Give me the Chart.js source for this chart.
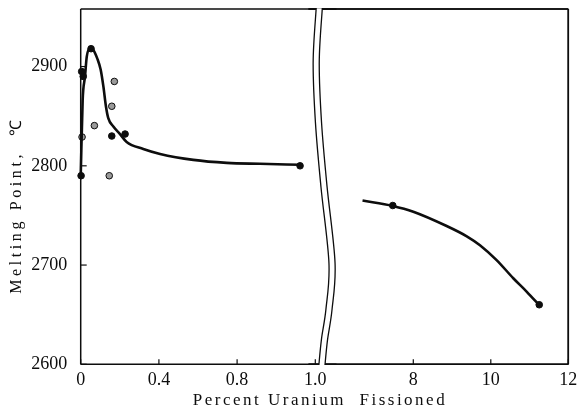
<!DOCTYPE html>
<html>
<head>
<meta charset="utf-8">
<script src="https://cdn.jsdelivr.net/npm/chart.js@4.4.0/dist/chart.umd.min.js"></script>
<style>
  html, body { margin: 0; padding: 0; background: #fff; }
  #wrap { position: relative; width: 577px; height: 413px; overflow: hidden; }
  #wrap canvas { position: absolute; top: 0; }
  #low { left: 0; }
  #high { left: 290px; }
</style>
</head>
<body>
<div id="wrap">
  <canvas id="low" width="577" height="413"></canvas>
  <canvas id="high" width="300" height="413"></canvas>
</div>
<script>
// low burn-up panel (percent fissioned)
const lowCurveX = [0, 0.010, 0.022, 0.031, 0.048, 0.064, 0.085, 0.102, 0.116, 0.129, 0.141, 0.167, 0.201, 0.235, 0.320, 0.406, 0.576, 0.747, 0.917, 1.122];
const lowCurveY = [2789, 2866, 2890, 2910, 2918.5, 2917, 2908, 2897, 2880, 2860, 2848, 2839.5, 2832, 2824, 2817, 2812, 2806, 2803, 2802, 2801];
const lowSolidX = [0.053, 0.005, 0.013, 0.159, 0.227, 0.002, 1.122];
const lowSolidY = [2918, 2895, 2890, 2830, 2832, 2790, 2800];
const lowRingX = [0.172, 0.159, 0.070, 0.007, 0.146];
const lowRingY = [2885, 2860, 2840.5, 2829, 2790];

// high burn-up panel
const highCurveX = [6.69, 7.47, 8.0, 8.86, 9.38, 9.72, 10.15, 10.58, 10.93, 11.25];
const highCurveY = [2765, 2759.6, 2753.8, 2739.4, 2729, 2720, 2705, 2686.7, 2673, 2659.5];
const highSolidX = [7.47, 11.25];
const highSolidY = [2760, 2660];

const lowTicks = [0, 0.4, 0.8, 1.2];
const lowTickLabels = ['0', '0.4', '0.8', '1.0'];
const highTicks = [8, 10, 12];
const yTicks = [2600, 2700, 2800, 2900];

const xTitle = 'Percent Uranium  Fissioned';
const yTitle = 'Melting Point,  \u2103';

const ink = '#0d0d0d';
const serif = "'Liberation Serif', 'Times New Roman', serif";
const highLeft = 290; // left offset of the high panel canvas

function pairs(xs, ys) {
  return xs.map((x, i) => ({ x: x, y: ys[i] }));
}

function curve(xs, ys) {
  return {
    data: pairs(xs, ys), showLine: true, pointRadius: 0,
    borderColor: ink, borderWidth: 2.6, cubicInterpolationMode: 'monotone', clip: false
  };
}

function dots(xs, ys, fill) {
  return {
    data: pairs(xs, ys), showLine: false, pointRadius: 3.3, pointHoverRadius: 3.3,
    pointBackgroundColor: fill, pointBorderColor: ink, pointBorderWidth: 1, clip: false
  };
}

function yScale(show) {
  const s = {
    display: show, min: 2600, max: 2958,
    grid: { display: false }, border: { display: false },
    afterBuildTicks: (sc) => { sc.ticks = yTicks.map(v => ({ value: v })); },
    ticks: { color: ink, font: { family: serif, size: 18 }, padding: 5.5, callback: (v) => String(v) }
  };
  if (show) {
    s.afterFit = (sc) => { sc.width = 80.7; sc.paddingTop = 0; sc.paddingBottom = 0; };
  }
  return s;
}

function xScale(min, max, ticks, labels) {
  return {
    type: 'linear', min: min, max: max,
    grid: { display: false }, border: { display: false },
    afterBuildTicks: (s) => { s.ticks = ticks.map(v => ({ value: v })); },
    afterFit: (s) => { s.height = 48.7; },
    ticks: {
      color: ink, font: { family: serif, size: 18 }, padding: -3,
      autoSkip: false, maxRotation: 0,
      callback: (v) => labels ? labels[ticks.indexOf(v)] : String(v)
    }
  };
}

function segment(ctx, x1, y1, x2, y2) {
  ctx.beginPath();
  ctx.moveTo(x1, y1);
  ctx.lineTo(x2, y2);
  ctx.stroke();
}

// box lines of one panel; dx shifts a panel into another canvas
function drawBox(ctx, a, isLow, dx) {
  const l = (isLow ? a.left : a.left - 14) + dx;
  const r = (isLow ? a.right + 14 : a.right) + dx;
  const edge = (isLow ? a.left : a.right) + dx;
  ctx.save();
  ctx.strokeStyle = ink;
  ctx.lineWidth = 1.5;
  segment(ctx, l, a.top, r, a.top);
  segment(ctx, l, a.bottom, r, a.bottom);
  segment(ctx, edge, a.top, edge, a.bottom);
  ctx.restore();
}

// inward tick marks of one panel
function drawTicks(chart, withY, dx) {
  const ctx = chart.ctx;
  const a = chart.chartArea;
  ctx.save();
  ctx.strokeStyle = ink;
  ctx.lineWidth = 1.2;
  const xs = chart.scales.x;
  xs.ticks.forEach(t => {
    const px = xs.getPixelForValue(t.value) + dx;
    segment(ctx, px, a.bottom, px, a.bottom - 5);
  });
  if (withY) {
    const ys = chart.scales.y;
    ys.ticks.forEach(t => {
      const py = ys.getPixelForValue(t.value);
      segment(ctx, a.left, py, a.left + 6, py);
    });
  }
  ctx.restore();
}

// double wavy break line between the two panels
const breakWave = [[0, -3.3], [0.15, -6.3], [0.32, -4], [0.5, 1.5], [0.715, 9.5], [0.845, 6.5], [0.93, 2], [1, -0.5]];

function wavePath(ctx, pts) {
  ctx.beginPath();
  ctx.moveTo(pts[0][0], pts[0][1]);
  for (let i = 0; i < pts.length - 1; i++) {
    const p0 = pts[Math.max(i - 1, 0)], p1 = pts[i], p2 = pts[i + 1], p3 = pts[Math.min(i + 2, pts.length - 1)];
    ctx.bezierCurveTo(
      p1[0] + (p2[0] - p0[0]) / 6, p1[1] + (p2[1] - p0[1]) / 6,
      p2[0] - (p3[0] - p1[0]) / 6, p2[1] - (p3[1] - p1[1]) / 6,
      p2[0], p2[1]);
  }
}

const highFrame = {
  id: 'highFrame',
  afterDraw(chart) {
    const ctx = chart.ctx;
    const a = chart.chartArea;
    drawBox(ctx, a, false, 0);
    drawTicks(chart, false, 0);
    const h = a.bottom - a.top;
    const pts = breakWave.map(p => [a.left + p[1], a.top + p[0] * h]);
    pts.unshift([pts[0][0] + 0.5, pts[0][1] - 6]);
    pts.push([pts[pts.length - 1][0] - 0.3, pts[pts.length - 1][1] + 6]);
    ctx.save();
    ctx.beginPath();
    ctx.rect(a.left - 30, a.top - 0.8, 60, h + 1.6);
    ctx.clip();
    ctx.lineCap = 'butt';
    wavePath(ctx, pts); ctx.strokeStyle = ink; ctx.lineWidth = 7.4; ctx.stroke();
    wavePath(ctx, pts); ctx.strokeStyle = '#fff'; ctx.lineWidth = 4.8; ctx.stroke();
    ctx.restore();
  }
};

const common = {
  responsive: false, animation: false, devicePixelRatio: 1,
  plugins: { legend: { display: false }, tooltip: { enabled: false } }
};

document.getElementById('high').style.left = highLeft + 'px';

const highChart = new Chart(document.getElementById('high'), {
  type: 'scatter',
  data: {
    datasets: [
      curve(highCurveX, highCurveY),
      dots(highSolidX, highSolidY, ink)
    ]
  },
  options: Object.assign({}, common, {
    layout: { autoPadding: false, padding: { left: 32.5, top: 9, right: 21.7, bottom: 0 } },
    scales: { x: xScale(5.657, 12, highTicks, null), y: yScale(false) }
  }),
  plugins: [highFrame]
});

const lowFrame = {
  id: 'lowFrame',
  afterDraw(chart) {
    const ctx = chart.ctx;
    drawBox(ctx, chart.chartArea, true, 0);
    drawTicks(chart, true, 0);
    // the high panel box is repeated here on the full-width canvas
    drawBox(ctx, highChart.chartArea, false, highLeft);
    ctx.save();
    ctx.fillStyle = ink;
    ctx.font = '17px ' + serif;
    ctx.letterSpacing = '2.5px';
    ctx.textAlign = 'center';
    ctx.textBaseline = 'alphabetic';
    ctx.fillText(xTitle, 320, 405);
    ctx.translate(21, 205);
    ctx.rotate(-Math.PI / 2);
    ctx.font = '16px ' + serif;
    ctx.letterSpacing = '3.6px';
    ctx.fillText(yTitle, 0, 0);
    ctx.restore();
  }
};

new Chart(document.getElementById('low'), {
  type: 'scatter',
  data: {
    datasets: [
      curve(lowCurveX, lowCurveY),
      dots(lowRingX, lowRingY, '#9a9a9a'),
      dots(lowSolidX, lowSolidY, ink)
    ]
  },
  options: Object.assign({}, common, {
    layout: { autoPadding: false, padding: { left: 0, top: 9, right: 577 - 322.5, bottom: 0 } },
    scales: { x: xScale(0, 1.2368, lowTicks, lowTickLabels), y: yScale(true) }
  }),
  plugins: [lowFrame]
});
</script>
</body>
</html>
